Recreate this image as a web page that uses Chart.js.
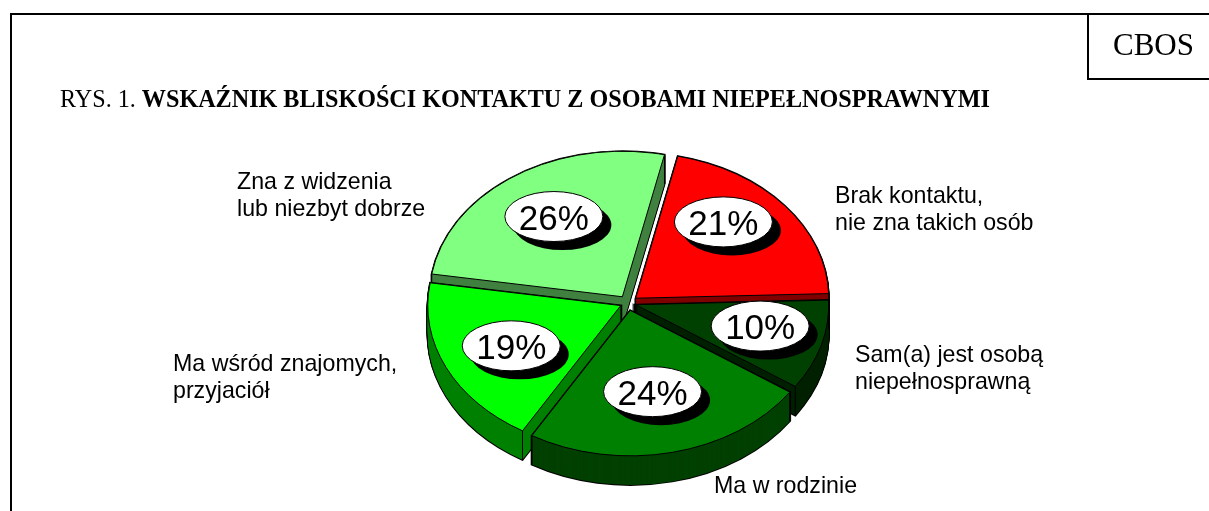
<!DOCTYPE html>
<html lang="pl">
<head>
<meta charset="utf-8">
<title>Wskaźnik bliskości kontaktu</title>
<script src="https://cdn.jsdelivr.net/npm/chart.js@4"></script>
<style>
  html, body { margin:0; padding:0; background:#fff; overflow:hidden; }
  #page { position:relative; width:1209px; height:511px; }
  #page canvas { position:absolute; left:0; top:0; }
  .rule { position:absolute; background:#000; }
  .txt { position:absolute; white-space:nowrap; font-family:"Liberation Serif",serif; color:#000; line-height:1; }
</style>
</head>
<body>
<div id="page">
  <canvas id="pie" width="1209" height="511"></canvas>
  <div class="rule" style="left:10px;top:13px;width:1199px;height:2px"></div>
  <div class="rule" style="left:10px;top:13px;width:2px;height:498px"></div>
  <div class="rule" style="left:1087px;top:13px;width:2px;height:67px"></div>
  <div class="rule" style="left:1087px;top:78px;width:122px;height:2px"></div>
  <div class="txt" style="left:1113px;top:29px;font-size:31px">CBOS</div>
  <div class="txt" style="left:60px;top:87px;font-size:24.15px">RYS. 1. <b>WSKAŹNIK BLISKOŚCI KONTAKTU Z OSOBAMI NIEPEŁNOSPRAWNYMI</b></div>
</div>
<script>
const categories = [
  ['Brak kontaktu,', 'nie zna takich osób'],
  ['Sam(a) jest osobą', 'niepełnosprawną'],
  ['Ma w rodzinie'],
  ['Ma wśród znajomych,', 'przyjaciół'],
  ['Zna z widzenia', 'lub niezbyt dobrze'],
];
const values = [21, 10, 24, 19, 26];
const topColors  = ['#ff0000', '#004000', '#008000', '#00ff00', '#80ff80'];
const wallColors = ['#800000', '#002000', '#004000', '#008000', '#408040'];

const SQUASH = 0.754;   // tilt of the pie
const DEPTH = 29;       // wall height in px
// text placement, by slice
const labelNudge = [[-9,-16], [4,-5], [-5,-11], [4,0], [2,-2]];
const catPos = [[835,203], [855,362], [714,493], [173,371], [237,189]];

// ── slice outline in the tilted plane, dy pushes it down for the walls ──
function slicePath(ctx, a, dy) {
  const off = a.options.offset / 4;
  const mid = (a.startAngle + a.endAngle) / 2;
  const x = a.x + Math.cos(mid) * off;
  const y = a.y + Math.sin(mid) * off * SQUASH + dy;
  ctx.beginPath();
  ctx.moveTo(x, y);
  ctx.ellipse(x, y, a.outerRadius, a.outerRadius * SQUASH, 0, a.startAngle, a.endAngle);
  ctx.closePath();
  return { x, y, mid };
}

function drawSlice(ctx, a, i) {
  // wall: black silhouette first, then fill it leaving only the outer edge
  ctx.lineWidth = 2;
  ctx.strokeStyle = '#000';
  for (let d = DEPTH; d >= 0; d--) { slicePath(ctx, a, d); ctx.stroke(); }
  ctx.fillStyle = wallColors[i];
  for (let d = DEPTH; d >= 0; d--) { slicePath(ctx, a, d); ctx.fill(); }

  // vertical edges where the arc ends
  const c = slicePath(ctx, a, 0);
  ctx.lineWidth = 1;
  ctx.beginPath();
  [a.startAngle, a.endAngle].forEach(t => {
    const ex = c.x + Math.cos(t) * a.outerRadius;
    const ey = c.y + Math.sin(t) * a.outerRadius * SQUASH;
    ctx.moveTo(ex, ey);
    ctx.lineTo(ex, ey + DEPTH);
  });
  ctx.stroke();

  // top face
  slicePath(ctx, a, 0);
  ctx.fillStyle = topColors[i];
  ctx.fill();
  ctx.lineWidth = 1;
  ctx.stroke();
}

function drawBadge(ctx, a, i) {
  const off = a.options.offset / 4;
  const mid = (a.startAngle + a.endAngle) / 2;
  const r = off + a.outerRadius * 0.65;
  const x = a.x + Math.cos(mid) * r + labelNudge[i][0];
  const y = a.y + Math.sin(mid) * r * SQUASH + labelNudge[i][1];
  ctx.beginPath();
  ctx.ellipse(x + 8.5, y + 8.5, 49, 25, 0, 0, Math.PI * 2);
  ctx.fillStyle = '#000';
  ctx.fill();
  ctx.beginPath();
  ctx.ellipse(x, y, 49, 25, 0, 0, Math.PI * 2);
  ctx.fillStyle = '#fff';
  ctx.fill();
  ctx.strokeStyle = '#000';
  ctx.lineWidth = 1;
  ctx.stroke();
  ctx.fillStyle = '#000';
  ctx.font = '35px "Liberation Sans"';
  ctx.textAlign = 'center';
  ctx.textBaseline = 'alphabetic';
  ctx.fillText(values[i] + '%', x, y + 13);
}

const tiltedPie = {
  id: 'tiltedPie',
  beforeDatasetsDraw(chart) {
    const ctx = chart.ctx;
    const arcs = chart.getDatasetMeta(0).data;
    // back to front
    const order = arcs.map((a, i) => i).sort((p, q) =>
      Math.sin((arcs[p].startAngle + arcs[p].endAngle) / 2) -
      Math.sin((arcs[q].startAngle + arcs[q].endAngle) / 2));
    ctx.save();
    order.forEach(i => drawSlice(ctx, arcs[i], i));
    order.forEach(i => drawBadge(ctx, arcs[i], i));
    ctx.font = '23.2px "Liberation Sans"';
    ctx.fillStyle = '#000';
    ctx.textAlign = 'left';
    ctx.textBaseline = 'alphabetic';
    categories.forEach((lines, i) => lines.forEach((s, n) =>
      ctx.fillText(s, catPos[i][0], catPos[i][1] + n * 26.5)));
    ctx.restore();
    return false;
  },
};

new Chart(document.getElementById('pie'), {
  type: 'pie',
  data: { labels: categories, datasets: [{
    data: values,
    backgroundColor: topColors,
    offset: [40, 32, 40, 32, 40],
  }]},
  options: {
    responsive: false,
    animation: false,
    rotation: 12.6,
    radius: 193,
    layout: { padding: { left: 47, top: 95 } },
    plugins: { legend: { display: false }, tooltip: { enabled: false } },
  },
  plugins: [tiltedPie],
});
</script>
</body>
</html>
